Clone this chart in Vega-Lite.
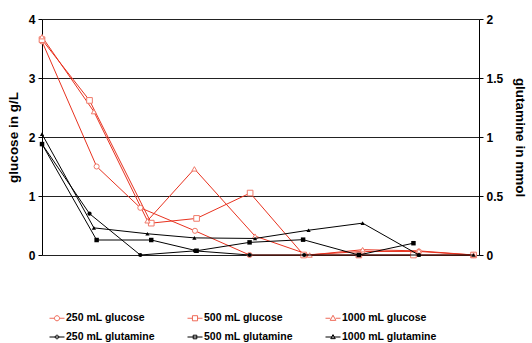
{
  "$schema": "https://vega.github.io/schema/vega-lite/v6.json",
  "width": 437,
  "height": 236,
  "autosize": {"type": "none"},
  "padding": {"left": 42, "top": 19, "right": 53, "bottom": 88},
  "background": "white",
  "config": {
    "view": {"stroke": null},
    "font": "Liberation Sans",
    "axis": {
      "labelFont": "Liberation Sans", "labelFontWeight": "bold", "labelFontSize": 12, "labelColor": "black",
      "titleFont": "Liberation Sans", "titleFontWeight": "bold", "titleFontSize": 13.5, "titleColor": "black",
      "domainColor": "black", "tickColor": "black", "tickSize": 4, "labelPadding": 3,
      "gridColor": "#222222", "gridWidth": 1
    },
    "legend": {
      "orient": "none", "legendX": 7, "legendY": 291, "columns": 3, "direction": "horizontal",
      "labelFont": "Liberation Sans", "labelFontWeight": "bold", "labelFontSize": 10.5, "labelColor": "black",
      "symbolSize": 225, "symbolStrokeWidth": 1, "columnPadding": 30, "rowPadding": 5, "labelOffset": 1,
      "labelLimit": 200
    }
  },
  "datasets": {
    "glc": [
      {"series": "250 mL glucose", "day": 0, "value": 3.62},
      {"series": "250 mL glucose", "day": 1.0, "value": 1.5},
      {"series": "250 mL glucose", "day": 1.8, "value": 0.8},
      {"series": "250 mL glucose", "day": 2.8, "value": 0.41},
      {"series": "250 mL glucose", "day": 3.8, "value": 0},
      {"series": "250 mL glucose", "day": 4.8, "value": 0},
      {"series": "250 mL glucose", "day": 5.87, "value": 0.06},
      {"series": "250 mL glucose", "day": 6.9, "value": 0.06},
      {"series": "250 mL glucose", "day": 7.9, "value": 0},
      {"series": "500 mL glucose", "day": 0, "value": 3.65},
      {"series": "500 mL glucose", "day": 0.87, "value": 2.62},
      {"series": "500 mL glucose", "day": 2.0, "value": 0.54},
      {"series": "500 mL glucose", "day": 2.83, "value": 0.62},
      {"series": "500 mL glucose", "day": 3.81, "value": 1.05},
      {"series": "500 mL glucose", "day": 4.79, "value": 0},
      {"series": "500 mL glucose", "day": 5.8, "value": 0},
      {"series": "500 mL glucose", "day": 6.8, "value": 0},
      {"series": "500 mL glucose", "day": 7.9, "value": 0},
      {"series": "1000 mL glucose", "day": 0, "value": 3.7},
      {"series": "1000 mL glucose", "day": 0.95, "value": 2.43},
      {"series": "1000 mL glucose", "day": 1.93, "value": 0.58},
      {"series": "1000 mL glucose", "day": 2.79, "value": 1.46},
      {"series": "1000 mL glucose", "day": 3.9, "value": 0.32},
      {"series": "1000 mL glucose", "day": 4.9, "value": 0},
      {"series": "1000 mL glucose", "day": 5.87, "value": 0.09},
      {"series": "1000 mL glucose", "day": 6.9, "value": 0.07},
      {"series": "1000 mL glucose", "day": 7.9, "value": 0}
    ],
    "gln": [
      {"series": "250 mL glutamine", "day": 0, "value": 0.94},
      {"series": "250 mL glutamine", "day": 0.87, "value": 0.35},
      {"series": "250 mL glutamine", "day": 1.8, "value": 0},
      {"series": "250 mL glutamine", "day": 2.8, "value": 0.035},
      {"series": "250 mL glutamine", "day": 3.8, "value": 0},
      {"series": "250 mL glutamine", "day": 4.8, "value": 0},
      {"series": "250 mL glutamine", "day": 5.8, "value": 0},
      {"series": "250 mL glutamine", "day": 6.9, "value": 0},
      {"series": "500 mL glutamine", "day": 0, "value": 0.94},
      {"series": "500 mL glutamine", "day": 1.0, "value": 0.127},
      {"series": "500 mL glutamine", "day": 2.0, "value": 0.127},
      {"series": "500 mL glutamine", "day": 2.83, "value": 0.036},
      {"series": "500 mL glutamine", "day": 3.8, "value": 0.107},
      {"series": "500 mL glutamine", "day": 4.78, "value": 0.13},
      {"series": "500 mL glutamine", "day": 5.8, "value": 0},
      {"series": "500 mL glutamine", "day": 6.8, "value": 0.1},
      {"series": "1000 mL glutamine", "day": 0, "value": 1.025},
      {"series": "1000 mL glutamine", "day": 0.95, "value": 0.23},
      {"series": "1000 mL glutamine", "day": 1.93, "value": 0.18},
      {"series": "1000 mL glutamine", "day": 2.79, "value": 0.145},
      {"series": "1000 mL glutamine", "day": 3.9, "value": 0.14},
      {"series": "1000 mL glutamine", "day": 4.88, "value": 0.21},
      {"series": "1000 mL glutamine", "day": 5.87, "value": 0.27},
      {"series": "1000 mL glutamine", "day": 6.9, "value": 0},
      {"series": "1000 mL glutamine", "day": 7.9, "value": 0}
    ]
  },
  "layer": [
    {
      "data": {"name": "glc"},
      "encoding": {
        "x": {"field": "day", "type": "quantitative", "scale": {"domain": [0, 8], "nice": false},
              "axis": {"title": "process time in d", "values": [0,1,2,3,4,5,6,7,8], "grid": false, "titlePadding": 5, "format": "d"}},
        "y": {"field": "value", "type": "quantitative", "scale": {"domain": [0, 4], "nice": false},
              "axis": {"title": "glucose in g/L", "values": [0,1,2,3,4], "grid": true, "titlePadding": 8, "format": "d"}}
      },
      "layer": [
        {"mark": {"type": "line", "color": "#e8321f", "strokeWidth": 1}, "encoding": {"detail": {"field": "series"}}},
        {"transform": [{"filter": "datum.series === '250 mL glucose'"}],
         "mark": {"type": "point", "shape": "circle", "size": 26, "filled": true, "fill": "white", "stroke": "#f07a6a", "strokeWidth": 1, "opacity": 1}},
        {"transform": [{"filter": "datum.series === '500 mL glucose'"}],
         "mark": {"type": "point", "shape": "square", "size": 32, "filled": true, "fill": "white", "stroke": "#f07a6a", "strokeWidth": 1, "opacity": 1}},
        {"transform": [{"filter": "datum.series === '1000 mL glucose'"}],
         "mark": {"type": "point", "shape": "triangle-up", "size": 26, "filled": true, "fill": "white", "stroke": "#f07a6a", "strokeWidth": 1, "opacity": 1}},
        {"mark": {"type": "point", "opacity": 0, "filled": false},
         "encoding": {
           "stroke": {"field": "series", "type": "nominal", "legend": {"title": null},
             "scale": {"domain": ["250 mL glucose", "500 mL glucose", "1000 mL glucose", "250 mL glutamine", "500 mL glutamine", "1000 mL glutamine"],
                       "range": ["#ef6a58", "#ef6a58", "#ef6a58", "black", "black", "black"]}},
           "fill": {"field": "series", "type": "nominal", "legend": {"title": null},
             "scale": {"domain": ["250 mL glucose", "500 mL glucose", "1000 mL glucose", "250 mL glutamine", "500 mL glutamine", "1000 mL glutamine"],
                       "range": ["white", "white", "white", "black", "black", "black"]}},
           "shape": {"field": "series", "type": "nominal", "legend": {"title": null},
             "scale": {"domain": ["250 mL glucose", "500 mL glucose", "1000 mL glucose", "250 mL glutamine", "500 mL glutamine", "1000 mL glutamine"],
                       "range": [
                         "M-1,0H-0.34M0.34,0H1M0.34,0A0.34,0.34,0,1,1,-0.34,0A0.34,0.34,0,1,1,0.34,0Z",
                         "M-1,0H-0.34M0.34,0H1M-0.34,-0.34H0.34V0.34H-0.34Z",
                         "M-1,0H-0.36M0.36,0H1M0,-0.4L0.38,0.28H-0.38Z",
                         "M-1,0H1M0.24,0A0.24,0.24,0,1,1,-0.24,0A0.24,0.24,0,1,1,0.24,0Z",
                         "M-1,0H1M-0.24,-0.24H0.24V0.24H-0.24Z",
                         "M-1,0H1M0,-0.32L0.3,0.22H-0.3Z"
                       ]}}
         }}
      ]
    },
    {
      "data": {"name": "gln"},
      "encoding": {
        "x": {"field": "day", "type": "quantitative", "scale": {"domain": [0, 8], "nice": false}, "axis": null},
        "y": {"field": "value", "type": "quantitative", "scale": {"domain": [0, 2], "nice": false},
              "axis": {"orient": "right", "title": "glutamine in mmol", "values": [0, 0.5, 1, 1.5, 2], "grid": false, "format": "~g", "titlePadding": 10}}
      },
      "layer": [
        {"mark": {"type": "line", "color": "black", "strokeWidth": 1}, "encoding": {"detail": {"field": "series"}}},
        {"transform": [{"filter": "datum.series === '250 mL glutamine'"}],
         "mark": {"type": "point", "shape": "circle", "size": 18, "filled": true, "color": "black", "opacity": 1}},
        {"transform": [{"filter": "datum.series === '500 mL glutamine'"}],
         "mark": {"type": "point", "shape": "square", "size": 20, "filled": true, "color": "black", "opacity": 1}},
        {"transform": [{"filter": "datum.series === '1000 mL glutamine'"}],
         "mark": {"type": "point", "shape": "triangle-up", "size": 18, "filled": true, "color": "black", "opacity": 1}}
      ]
    }
  ],
  "resolve": {"scale": {"y": "independent"}}
}
